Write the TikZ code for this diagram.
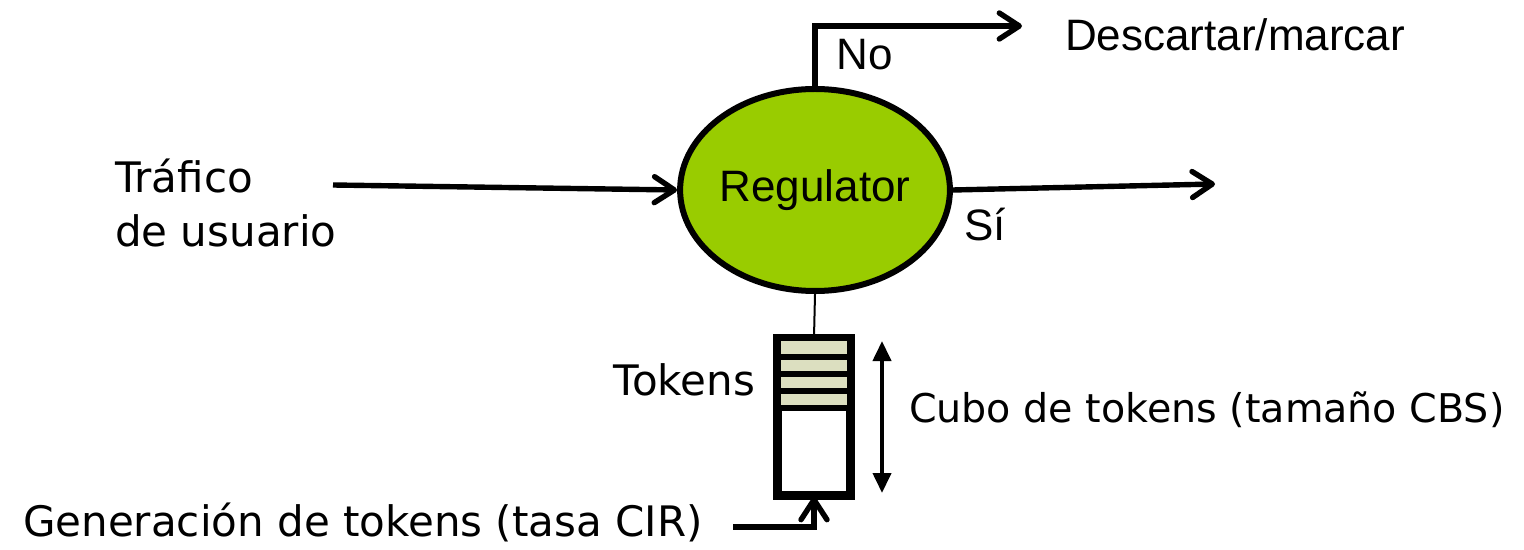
\documentclass[tikz,border=0pt]{standalone}
\usepackage{fontspec}
\setmainfont{Liberation Sans}
\newfontfamily\handfont{DejaVu Sans}
\usetikzlibrary{arrows.meta,shapes.geometric}
\definecolor{regGreen}{HTML}{99CC00}
\definecolor{tokenFill}{HTML}{DCDFC0}
\tikzset{
  flow/.style={line width=2.7pt,-{Straight Barb[length=10pt,width=13pt,line cap=round,line join=round]}},
  plain/.style={font=\fontsize{22}{26}\selectfont},
  hand/.style={font=\handfont\fontsize{21}{27}\selectfont},
  regulator/.style={ellipse,draw,line width=3pt,fill=regGreen,minimum width=129pt,minimum height=101pt,inner sep=0pt},
  bucketbox/.style={draw,line width=3pt,minimum width=35pt,minimum height=77pt,inner sep=0pt},
  span/.style={line width=2pt,{Triangle[length=10pt,width=9pt]}-{Triangle[length=10pt,width=9pt]}}
}
\begin{document}
\begin{tikzpicture}[x=0.5pt,y=-0.5pt]
\useasboundingbox (0,0) rectangle (1524,550);

% regulator
\node[regulator,plain] (reg) at (815,190) {Regulator};

% discard branch
\coordinate (discard) at (1022,26);
\draw[flow,line join=miter] (reg.north) |- (discard);
\node[plain] (no) at (865,55) {No};
\node[plain,anchor=west] (desc) at (1058,35) {Descartar/marcar};

% conforming output
\coordinate (out) at (1215,184);
\draw[flow] (reg.east) -- (out);
\node[plain] (si) at (985,225) {Sí};

% user traffic input
\node[hand,anchor=west,align=left] (traf) at (108,203) {Tráfico\\de usuario};
\coordinate (in) at (333,185);
\draw[flow] (in) -- (reg.west);

% token bucket
\node[bucketbox] (bucket) at (814,417) {};
\fill[tokenFill] (781,341) rectangle (847,408);
\foreach \y in {357,374,391,408}
  \draw[line width=3pt] (778,\y) -- (850,\y);
\draw[line width=3pt] (bucket.north west) rectangle (bucket.south east);
\draw[line width=1pt] (reg.south) -- (bucket.north);
\node[hand,anchor=east] (tok) at (762,380) {Tokens};

% bucket size
\coordinate (sizetop) at (882,341);
\coordinate (sizebot) at (882,493);
\draw[span] (sizetop) -- (sizebot);
\node[hand,anchor=west,font=\handfont\fontsize{19.8}{25}\selectfont] (cubo) at (902,410) {Cubo de tokens (tamaño CBS)};

% token generation
\node[hand,anchor=west] (gen) at (16,522) {Generación de tokens (tasa CIR)};
\coordinate (genend) at (733,527);
\draw[flow,line join=miter] (genend) -| (bucket.south);
\end{tikzpicture}
\end{document}
